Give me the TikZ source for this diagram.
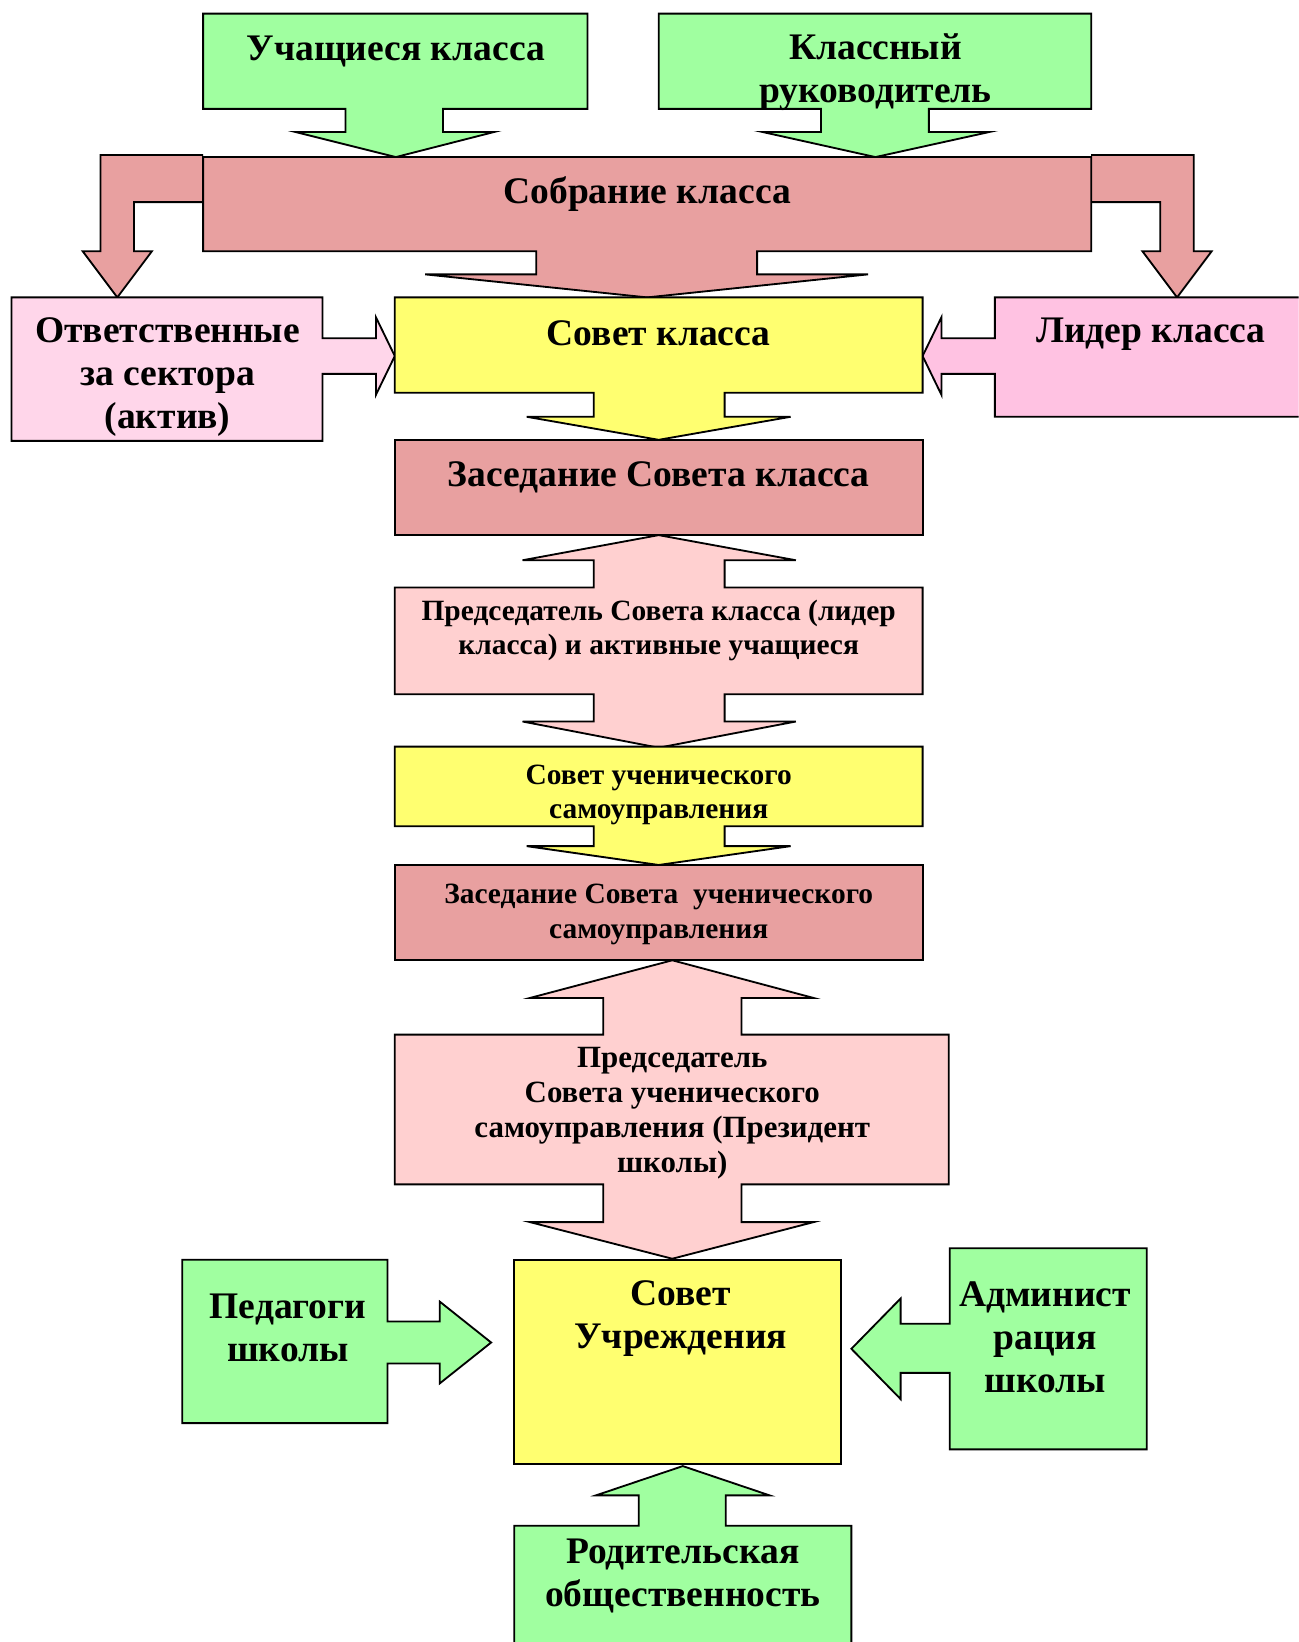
\documentclass[tikz,border=0pt]{standalone}
\usepackage{fontspec}
\setmainfont{Liberation Serif}
\definecolor{cgreen}{HTML}{A0FFA0}
\definecolor{crose}{HTML}{E8A0A0}
\definecolor{cyellow}{HTML}{FFFF70}
\definecolor{cpinkA}{HTML}{FFD6EA}
\definecolor{cpinkB}{HTML}{FFC2E2}
\definecolor{cpred}{HTML}{FFD0D0}
\tikzset{
  shp/.style={draw=black, line width=1pt, line join=miter},
  big/.style={font=\fontsize{20.4}{23.3}\selectfont\bfseries, align=center, inner sep=0pt},
  mid/.style={font=\fontsize{16}{18.8}\selectfont\bfseries, align=center, inner sep=0pt},
  midl/.style={font=\fontsize{16.8}{19}\selectfont\bfseries, align=center, inner sep=0pt},
}
\begin{document}
\begin{tikzpicture}[x=0.02cm,y=-0.02cm]
\useasboundingbox (0,0) rectangle (1240,1568);
\clip (0,0) rectangle (1240,1568);
\fill[white] (0,0) rectangle (1240,1568);

% top green callouts
\draw[shp, fill=cgreen] (194,13)--(561,13)--(561,104)--(423,104)--(423,126)--(472,126)--(378,150)--(282,126)--(330,126)--(330,104)--(194,104)--cycle;
\draw[shp, fill=cgreen] (629,13)--(1042,13)--(1042,104)--(887,104)--(887,126)--(945,126)--(836,150)--(728,126)--(784,126)--(784,104)--(629,104)--cycle;

% bent arrows
\draw[shp, fill=crose] (194,148)--(96,148)--(96,240)--(79,240)--(112,284)--(145,240)--(128,240)--(128,193)--(194,193);
\draw[shp, fill=crose] (1042,148)--(1140,148)--(1140,240)--(1157,240)--(1124,284)--(1091,240)--(1108,240)--(1108,193)--(1042,193);

% Sobranie
\draw[shp, fill=crose] (194,150)--(1042,150)--(1042,240)--(723,240)--(723,262)--(829,262)--(618,284)--(406,262)--(512,262)--(512,240)--(194,240)--cycle;

% Otvetstvennye
\draw[shp, fill=cpinkA] (11,284)--(308,284)--(308,323)--(359,323)--(359,303)--(377,340)--(359,377)--(359,357)--(308,357)--(308,421)--(11,421)--cycle;

% Lider
\draw[shp, fill=cpinkB] (1250,284)--(950,284)--(950,323)--(899,323)--(899,303)--(881,340)--(899,377)--(899,357)--(950,357)--(950,398)--(1250,398);

% Sovet klassa
\draw[shp, fill=cyellow] (377,284)--(881,284)--(881,375)--(692,375)--(692,398)--(755,398)--(629,420)--(503,398)--(567,398)--(567,375)--(377,375)--cycle;

% Zasedanie SK
\draw[shp, fill=crose] (377,420) rectangle (881,511);

% Predsedatel 1
\draw[shp, fill=cpred] (377,561)--(567,561)--(567,535)--(499,535)--(629,511)--(760,535)--(692,535)--(692,561)--(881,561)--(881,663)--(692,663)--(692,689)--(760,689)--(629,714)--(499,689)--(567,689)--(567,663)--(377,663)--cycle;

% Sovet uchenicheskogo
\draw[shp, fill=cyellow] (377,713)--(881,713)--(881,789)--(692,789)--(692,808)--(755,808)--(629,826)--(503,808)--(567,808)--(567,789)--(377,789)--cycle;

% Zasedanie SUS
\draw[shp, fill=crose] (377,826) rectangle (881,917);

% Predsedatel 2
\draw[shp, fill=cpred] (377,988)--(576,988)--(576,953)--(506,953)--(642,917)--(777,953)--(708,953)--(708,988)--(906,988)--(906,1131)--(708,1131)--(708,1167)--(777,1167)--(642,1202)--(506,1167)--(576,1167)--(576,1131)--(377,1131)--cycle;

% Sovet Uchrezhdeniya
\draw[shp, fill=cyellow] (491,1203) rectangle (803,1398);

% Pedagogi
\draw[shp, fill=cgreen] (174,1203)--(370,1203)--(370,1262)--(420,1262)--(420,1243)--(469,1282)--(420,1321)--(420,1302)--(370,1302)--(370,1359)--(174,1359)--cycle;

% Administraciya
\draw[shp, fill=cgreen] (1095,1192)--(907,1192)--(907,1264)--(860,1264)--(860,1240)--(813,1288)--(860,1336)--(860,1311)--(907,1311)--(907,1384)--(1095,1384)--cycle;

% Roditelskaya
\draw[shp, fill=cgreen] (491,1580)--(491,1457)--(610,1457)--(610,1428)--(569,1428)--(652,1400)--(735,1428)--(693,1428)--(693,1457)--(813,1457)--(813,1580)--cycle;

% texts
\node[big] (t1) at (378,49) {Учащиеся класса};
\node[big] (t2) at (836,69) {Классный\\руководитель};
\node[big] (t3) at (618,185) {Собрание класса};
\node[big] (t4) at (160,360) {Ответственные\\за сектора\\(актив)};
\node[big] (t5) at (629,318) {Совет класса};
\node[big] (t6) at (1099,319) {Лидер класса};
\node[big] (t7) at (629,456) {Заседание Совета класса};
\node[mid] (t8) at (629,602) {Председатель Совета класса (лидер\\класса) и активные учащиеся};
\node[mid] (t9) at (629,759) {Совет ученического\\самоуправления};
\node[mid] (t10) at (629,873) {Заседание Совета\ \ ученического\\самоуправления};
\node[midl] (t11) at (642,1063) {Председатель\\Совета ученического\\самоуправления (Президент\\школы)};
\node[big] (t12) at (650,1259) {Совет\\Учреждения};
\node[big] (t13) at (275,1268) {Педагоги\\школы};
\node[big] (t14) at (998,1277) {Админист\\рация\\школы};
\node[big] (t15) at (652,1505) {Родительская\\общественность};
\end{tikzpicture}
\end{document}
